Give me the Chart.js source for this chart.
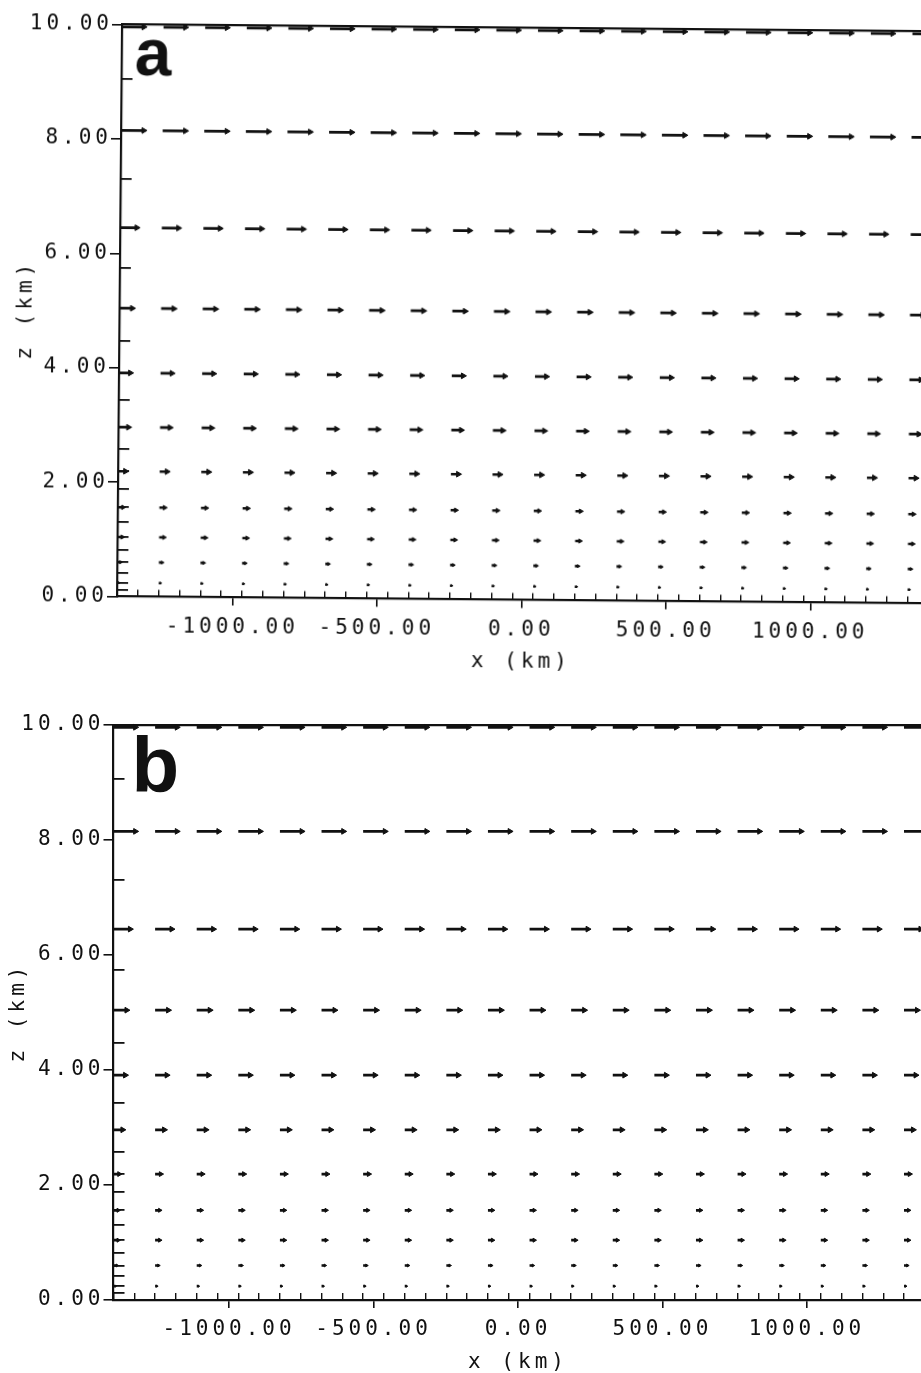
<!DOCTYPE html>
<html>
<head>
<meta charset="utf-8">
<title>u(x,z) cross-sections</title>
<script src="https://cdn.jsdelivr.net/npm/chart.js@4.4.1/dist/chart.umd.min.js"></script>
<style>
  html, body { margin: 0; padding: 0; background: #fff; overflow: hidden; }
  #page { position: relative; width: 921px; height: 1373px; overflow: hidden; background: #fff; }
  canvas { position: absolute; left: 0; }
  /* the scanned panel a is turned a little clockwise */
  #chartA { top: 0; transform: rotate(0.5deg); transform-origin: 117px 596.5px; }
  #chartB { top: 690px; }
</style>
</head>
<body>
<div id="page">
  <canvas id="chartA" width="940" height="700"></canvas>
  <canvas id="chartB" width="940" height="700"></canvas>
</div>
<script>
// grid columns (km) and model levels (km)
const xCols = [-1400, -1256, -1112, -968, -824, -680, -536, -392, -248, -104,
               40, 184, 328, 472, 616, 760, 904, 1048, 1192, 1336];
const zLevels = [9.96, 8.15, 6.45, 5.04, 3.91, 2.96, 2.19, 1.56, 1.04, 0.60, 0.24];

// u (m/s) on each level, the field is uniform along x
const uPanelA = [10.8, 11.2, 8.2, 6.3, 5.6, 4.9, 3.6, 2.6, 2.4, 1.7, 1.0];
const uPanelB = [10.8, 10.8, 8.2, 6.5, 5.8, 4.5, 2.8, 2.3, 2.3, 1.7, 1.0];

// labelled ticks
const xTickValues = [-1000, -500, 0, 500, 1000];
const zTickValues = [0, 2, 4, 6, 8, 10];

const vecKm = 7;      // arrow length: km of x per m/s
const ink = '#111';

// small inward ticks: full levels and half levels, columns and half columns
const xHalf = xCols.slice(1).map((x, i) => (x + xCols[i]) / 2);
const xMinor = xCols.concat(xHalf).sort((a, b) => a - b);
const zGround = zLevels.concat([0]);
const zHalf = zGround.slice(1).map((z, i) => (z + zGround[i]) / 2);
const zMinor = zLevels.concat(zHalf).sort((a, b) => a - b);

Chart.defaults.font.family = '"DejaVu Sans Mono", "Liberation Mono", monospace';
Chart.defaults.font.size = 21;
Chart.defaults.color = ink;

// plotter style lettering is widely spaced
const spacing = {
    id: 'spacing',
    beforeDraw(chart) { chart.ctx.letterSpacing = '4px'; },
    afterDraw(chart) { chart.ctx.letterSpacing = '0px'; }
};

const panelLetter = {
    id: 'panelLetter',
    afterDraw(chart, args, opts) {
        const ctx = chart.ctx, area = chart.chartArea;
        ctx.save();
        ctx.letterSpacing = '0px';
        ctx.font = 'bold ' + opts.size + 'px "Liberation Sans", Arial, sans-serif';
        ctx.fillStyle = ink;
        ctx.textBaseline = 'alphabetic';
        ctx.fillText(opts.text, area.left + opts.dx, area.top + opts.dy);
        ctx.restore();
    }
};

// one dataset per level: tail, tip, gap, tail, tip, gap ...
rowDatasets = (u) => {
    return zLevels.map((z, j) => {
        let pts = [];
        xCols.forEach(x => {
            pts.push({x: x, y: z});
            pts.push({x: x + u[j] * vecKm, y: z, u: u[j]});
            pts.push({x: x, y: null});
        });
        return {
            label: 'z = ' + z + ' km',
            data: pts,
            showLine: true,
            spanGaps: false,
            borderColor: ink,
            borderWidth: 2.7,
            borderCapStyle: 'butt',
            pointStyle: 'triangle',
            pointRotation: 90,
            pointRadius: c => (c.raw && c.raw.u) ? Math.min(3.3, c.raw.u) : 0,
            pointHoverRadius: 0,
            pointBackgroundColor: ink,
            pointBorderColor: ink,
            pointBorderWidth: 1,
            clip: false
        };
    });
}

scalesFor = (p) => {
    return {
        x: {
            type: 'linear', position: 'bottom', weight: 1, min: -1400, max: 1400,
            afterBuildTicks: s => { s.ticks = xTickValues.map(v => ({value: v})); },
            afterFit: s => { s.height = 80; },
            ticks: { callback: v => v.toFixed(2), padding: 9, maxRotation: 0, autoSkip: false },
            grid: { drawOnChartArea: false, tickLength: 8, color: ink, lineWidth: 1.6 },
            border: { color: ink, width: 2.2 },
            title: { display: true, text: 'x (km)', padding: {top: 0, bottom: 5} }
        },
        xm: {
            type: 'linear', position: 'bottom', weight: 0, min: -1400, max: 1400,
            afterBuildTicks: s => { s.ticks = xMinor.map(v => ({value: v})); },
            afterFit: s => { s.height = 0; },
            ticks: { display: false },
            grid: { drawOnChartArea: false, tickLength: -7, color: ink, lineWidth: 1.4 },
            border: { display: false }
        },
        xt: {
            type: 'linear', position: 'top', min: -1400, max: 1400,
            afterFit: s => { s.height = 0; },
            ticks: { display: false },
            grid: { display: false },
            border: { color: ink, width: 2.2 }
        },
        y: {
            type: 'linear', position: 'left', weight: 1, min: 0, max: 10,
            afterBuildTicks: s => { s.ticks = zTickValues.map(v => ({value: v})); },
            afterFit: s => { s.width = p.yWidth; },
            ticks: { callback: v => v.toFixed(2), padding: -1 },
            grid: { drawOnChartArea: false, tickLength: 10, color: ink, lineWidth: 1.6 },
            border: { color: ink, width: 2.2 },
            title: { display: true, text: 'z (km)', padding: {top: p.titleGap, bottom: 0} }
        },
        ym: {
            type: 'linear', position: 'left', weight: 0, min: 0, max: 10,
            afterBuildTicks: s => { s.ticks = zMinor.map(v => ({value: v})); },
            afterFit: s => { s.width = 0; },
            ticks: { display: false },
            grid: { drawOnChartArea: false, tickLength: -11, color: ink, lineWidth: 1.8 },
            border: { display: false }
        }
    };
}

makeChart = (id, u, p) => {
    const ctx = document.getElementById(id).getContext('2d');
    return new Chart(ctx, {
        type: 'scatter',
        data: { datasets: rowDatasets(u) },
        options: {
            responsive: false,
            animation: false,
            events: [],
            layout: { padding: p.padding },
            scales: scalesFor(p),
            plugins: {
                legend: { display: false },
                tooltip: { enabled: false },
                panelLetter: p.letter
            }
        },
        plugins: [spacing, panelLetter]
    });
}

makeChart('chartA', uPanelA, {
    yWidth: 117, titleGap: 11,
    padding: { left: 0, top: 24.5, right: 14, bottom: 23.5 },
    letter: { text: 'a', size: 66, dx: 13, dy: 50.5 }
});

makeChart('chartB', uPanelB, {
    yWidth: 113.5, titleGap: 6,
    padding: { left: 0, top: 35, right: 17.5, bottom: 10 },
    letter: { text: 'b', size: 78, dx: 18, dy: 67 }
});
</script>
</body>
</html>
